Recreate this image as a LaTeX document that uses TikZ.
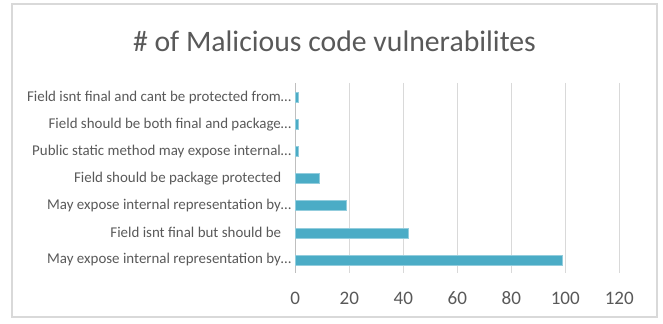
\documentclass[tikz,border=0pt]{standalone}
\usepackage{fontspec}
\setmainfont{Carlito}
\definecolor{barblue}{HTML}{4BACC6}
\definecolor{textgray}{HTML}{595959}
\definecolor{gridgray}{HTML}{D9D9D9}
\begin{document}
\begin{tikzpicture}[x=0.75pt, y=-0.75pt,
    bar/.style = {fill=barblue, draw=barblue!60!white, line width=0.4pt},
    gridline/.style = {draw=gridgray, line width=0.9pt},
    catlabel/.style = {anchor=east, inner sep=0pt, text=textgray,
      font=\fontsize{11.2}{13}\selectfont},
    ticklabel/.style = {inner sep=0pt, text=textgray,
      font=\fontsize{14.3}{16}\selectfont}]
  \useasboundingbox (0,0) rectangle (663,324);
  \draw[draw=gridgray, line width=0.8pt] (12,4) rectangle (657,317);
  \node[text=textgray, font=\fontsize{22.3}{26}\selectfont] (title) at (334.5,41)
    {\# of Malicious code vulnerabilites};
  % gridlines and ticks
  \foreach \v in {20, 40, ..., 120}
    \draw[gridline] (295.3 + 2.7*\v, 83) -- (295.3 + 2.7*\v, 273);
  \foreach \v in {0, 20, ..., 120}
    \node[ticklabel] (tick\v) at (295.3 + 2.7*\v, 298) {\v};
  \draw[draw=gray!50, line width=0.9pt] (295.3, 83) coordinate (axistop)
    -- (295.3, 273) coordinate (axisbot);
  % bars
  \foreach \val/\gap/\lab [count=\i] in {
      1/0/Field isnt final and cant be protected from…,
      1/0/Field should be both final and package…,
      1/0/Public static method may expose internal…,
      9/10/Field should be package protected,
      19/0/May expose internal representation by…,
      42/10/Field isnt final but should be,
      99/0/May expose internal representation by…} {
    \draw[bar] (295.3, 97.3 + 27.1*\i - 27.1 - 5)
      rectangle (295.3 + 2.7*\val, 97.3 + 27.1*\i - 27.1 + 5);
    \node[catlabel] (cat\i) at (291.5 - \gap, 97.3 + 27.1*\i - 27.1) {\lab};
  }
\end{tikzpicture}
\end{document}
